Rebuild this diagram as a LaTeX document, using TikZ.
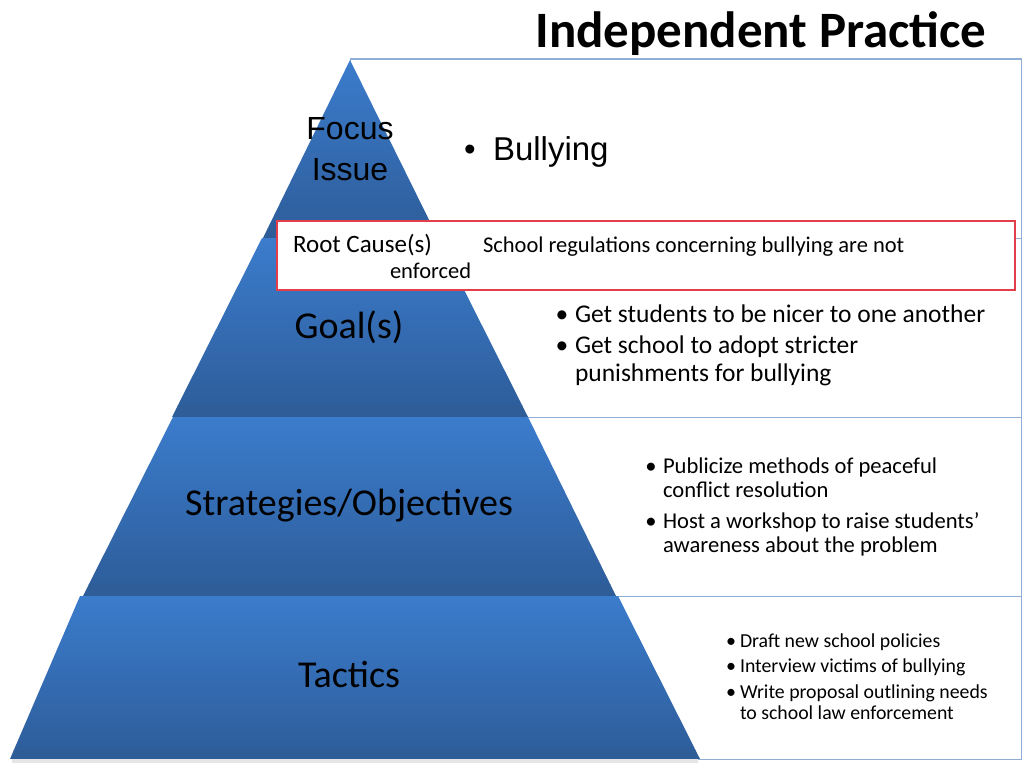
\documentclass[tikz,border=0pt]{standalone}
\usepackage{fontspec}
\setmainfont{Carlito}
\newfontfamily\arialf{Liberation Sans}
\definecolor{pyrlight}{RGB}{59,124,204}
\definecolor{pyrdark}{RGB}{46,94,156}
\definecolor{pyrband}{RGB}{46,93,152}
\definecolor{boxblue}{RGB}{143,174,214}
\definecolor{rootred}{RGB}{228,62,74}
\tikzset{
  seg/.style={top color=pyrlight, bottom color=pyrdark},
  band/.style={fill=pyrband},
  sidebox/.style={draw=boxblue, line width=1pt},
  rootbox/.style={draw=rootred, line width=1.2pt, fill=white},
  txt/.style={inner sep=0pt, outer sep=0pt, text=black},
  lvl/.style={txt, anchor=base, font=\fontsize{38}{44}\selectfont},
  bl/.style={txt, anchor=base west},
  dot/.style={txt, anchor=base},
}
\begin{document}
\begin{tikzpicture}[x=1pt,y=-1pt]
\fill[white] (0,0) rectangle (1024,768);
\useasboundingbox (0,0) rectangle (1024,768);

% side boxes
\draw[sidebox] (350,59) rectangle (1021,238);
\draw[sidebox] (350,238) rectangle (1021,417);
\draw[sidebox] (350,417) rectangle (1021,596);
\draw[sidebox] (350,596) rectangle (1021,759);

% shadow under base
\fill[black!10] (12,759) rectangle (698,763);

% pyramid segments
\begin{scope}
  \clip (350,60) -- (438,238) -- (263,238) -- cycle;
  \shade[seg] (250,60) rectangle (450,228);
  \fill[band] (250,228) rectangle (450,238);
\end{scope}
\begin{scope}
  \clip (262,238) -- (438,238) -- (528,417) -- (172,417) -- cycle;
  \shade[seg] (160,238) rectangle (540,405);
  \fill[band] (160,405) rectangle (540,417);
\end{scope}
\begin{scope}
  \clip (173,417) -- (528,417) -- (616,596) -- (83,596) -- cycle;
  \shade[seg] (70,417) rectangle (630,584);
  \fill[band] (70,584) rectangle (630,596);
\end{scope}
\begin{scope}
  \clip (80,596) -- (618,596) -- (700,759) -- (10,759) -- cycle;
  \shade[seg] (0,596) rectangle (710,750);
  \fill[band] (0,750) rectangle (710,759);
\end{scope}

% title
\node[txt, anchor=base, font=\bfseries\fontsize{51}{60}\selectfont] (title) at (761,48) {Independent Practice};

% level labels
\node[txt, anchor=base, font=\arialf\fontsize{32}{40}\selectfont] (focus) at (350,139) {Focus};
\node[txt, anchor=base, font=\arialf\fontsize{32}{40}\selectfont] (issue) at (350,180) {Issue};
\node[lvl] (goal) at (349,338) {Goal(s)};
\node[lvl] (strat) at (349,515) {Strategies/Objectives};
\node[lvl] (tact) at (349,687) {Tactics};

% focus issue content
\node[dot, font=\arialf\fontsize{33}{40}\selectfont] (bdot) at (470,160) {•};
\node[bl, font=\arialf\fontsize{33}{40}\selectfont] (bully) at (493,160) {Bullying};

% root cause box
\draw[rootbox] (277,221) rectangle (1015,290);
\node[bl, font=\fontsize{25}{30}\selectfont] (rc) at (293,252) {Root Cause(s)};
\node[bl, font=\fontsize{22.5}{27}\selectfont] (rc1) at (483,252) {School regulations concerning bullying are not};
\node[bl, font=\fontsize{22.5}{27}\selectfont] (rc2) at (390,278) {enforced};

% goals
\node[dot, font=\fontsize{25.5}{30}\selectfont] (gd1) at (562,322) {•};
\node[bl, font=\fontsize{25.5}{30}\selectfont] (g1) at (575,322) {Get students to be nicer to one another};
\node[dot, font=\fontsize{25.5}{30}\selectfont] (gd2) at (562,353) {•};
\node[bl, font=\fontsize{25.5}{30}\selectfont] (g2a) at (575,353) {Get school to adopt stricter};
\node[bl, font=\fontsize{25.5}{30}\selectfont] (g2b) at (575,381) {punishments for bullying};

% strategies
\node[dot, font=\fontsize{22.6}{26}\selectfont] (sd1) at (651,473) {•};
\node[bl, font=\fontsize{22.6}{26}\selectfont] (s1a) at (663,473) {Publicize methods of peaceful};
\node[bl, font=\fontsize{22.6}{26}\selectfont] (s1b) at (663,497) {conflict resolution};
\node[dot, font=\fontsize{22.6}{26}\selectfont] (sd2) at (651,528) {•};
\node[bl, font=\fontsize{22.6}{26}\selectfont] (s2a) at (663,528) {Host a workshop to raise students’};
\node[bl, font=\fontsize{22.6}{26}\selectfont] (s2b) at (663,552) {awareness about the problem};

% tactics
\node[dot, font=\fontsize{20}{24}\selectfont] (td1) at (731,647) {•};
\node[bl, font=\fontsize{19.8}{24}\selectfont] (t1) at (740,647) {Draft new school policies};
\node[dot, font=\fontsize{20}{24}\selectfont] (td2) at (731,672) {•};
\node[bl, font=\fontsize{19.8}{24}\selectfont] (t2) at (740,672) {Interview victims of bullying};
\node[dot, font=\fontsize{20}{24}\selectfont] (td3) at (731,698) {•};
\node[bl, font=\fontsize{19.8}{24}\selectfont] (t3a) at (740,698) {Write proposal outlining needs};
\node[bl, font=\fontsize{19.8}{24}\selectfont] (t3b) at (740,719) {to school law enforcement};
\end{tikzpicture}
\end{document}
